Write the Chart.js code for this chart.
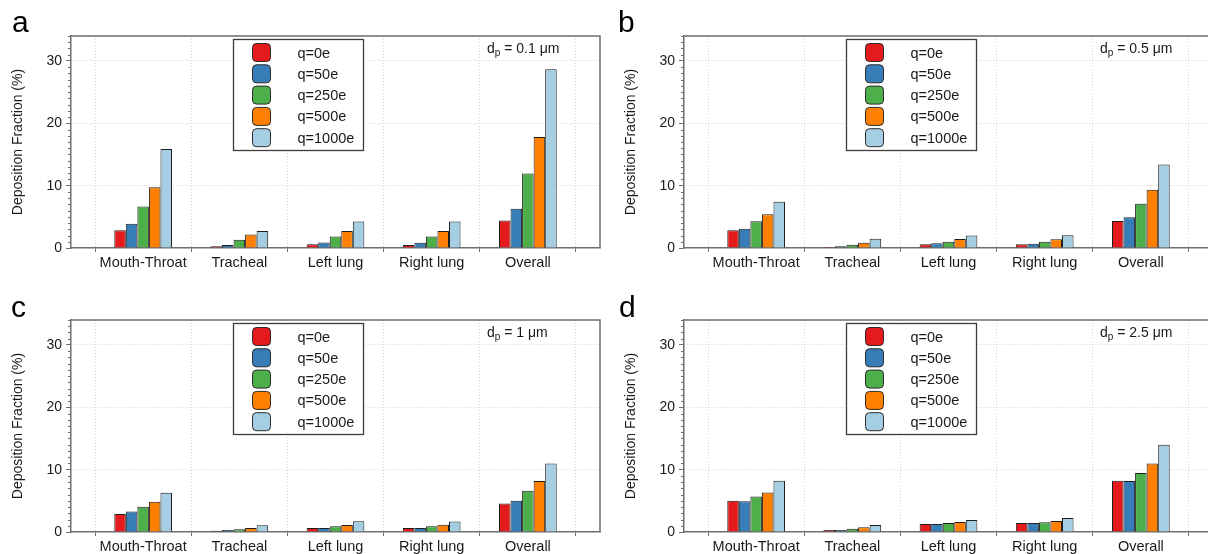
<!DOCTYPE html>
<html>
<head>
<meta charset="utf-8">
<script src="https://cdn.jsdelivr.net/npm/chart.js@4.4.0/dist/chart.umd.min.js"></script>
<style>
  html, body { margin: 0; padding: 0; background: #fff; }
  body { width: 1208px; height: 554px; position: relative; overflow: hidden; }
  canvas { position: absolute; }
</style>
</head>
<body>
<canvas id="chartA" width="604" height="284" style="left:0;top:0"></canvas>
<canvas id="chartB" width="604" height="284" style="left:613px;top:0"></canvas>
<canvas id="chartC" width="604" height="284" style="left:0;top:284px"></canvas>
<canvas id="chartD" width="604" height="284" style="left:613px;top:284px"></canvas>
<script>
var regions = ["Mouth-Throat", "Tracheal", "Left lung", "Right lung", "Overall"];
var charges = ["q=0e", "q=50e", "q=250e", "q=500e", "q=1000e"];
var colors = ["#e41a1c", "#377eb8", "#4daf4a", "#ff7f00", "#a6cee3"];
var yTicks = [0, 10, 20, 30];

// deposition fraction (%), one row per charge level, columns follow regions
var frac01 = [
    [2.85, 0.27, 0.60, 0.48, 4.40],
    [3.90, 0.48, 0.90, 0.86, 6.30],
    [6.67, 1.34, 1.83, 1.83, 11.94],
    [9.73, 2.15, 2.74, 2.74, 17.80],
    [15.86, 2.74, 4.25, 4.25, 28.66]
];
var frac05 = [
    [2.85, 0.16, 0.60, 0.60, 4.35],
    [3.10, 0.27, 0.75, 0.70, 4.95],
    [4.30, 0.54, 1.02, 1.02, 7.10],
    [5.43, 0.86, 1.45, 1.40, 9.35],
    [7.42, 1.50, 2.00, 2.04, 13.40]
];
var frac1 = [
    [2.90, 0.20, 0.65, 0.65, 4.57],
    [3.28, 0.32, 0.65, 0.65, 5.00],
    [4.03, 0.43, 0.91, 0.91, 6.61],
    [4.84, 0.65, 1.13, 1.18, 8.17],
    [6.29, 1.08, 1.72, 1.67, 10.97]
];
var frac25 = [
    [5.00, 0.32, 1.29, 1.45, 8.23],
    [4.95, 0.32, 1.29, 1.45, 8.17],
    [5.70, 0.54, 1.45, 1.56, 9.46],
    [6.34, 0.75, 1.61, 1.77, 10.97],
    [8.23, 1.13, 1.94, 2.26, 14.00]
];

var FONT = '"Liberation Sans", Arial, Helvetica, sans-serif';
var AXIS_COLOR = '#6e6e6e';
var GRID_COLOR = '#d2d2d2';

// frame, minor ticks, legend box, size label and panel letter
var panelDecor = {
    id: 'panelDecor',
    afterDatasetsDraw: function(chart) {
        var ctx = chart.ctx;
        var area = chart.chartArea;
        var y = chart.scales.y;
        var o = chart.options.plugins.panelDecor;

        ctx.save();
        // minor ticks on the y axis
        ctx.strokeStyle = AXIS_COLOR;
        ctx.lineWidth = 1;
        y.ticks.forEach(function(t) {
            if (t.value % 10 !== 0) {
                var py = Math.round(y.getPixelForValue(t.value)) + 0.5;
                ctx.beginPath();
                ctx.moveTo(area.left - 3, py);
                ctx.lineTo(area.left, py);
                ctx.stroke();
            }
        });

        // top and right border
        ctx.lineWidth = 1.5;
        ctx.beginPath();
        ctx.moveTo(area.left, area.top);
        ctx.lineTo(area.right, area.top);
        ctx.lineTo(area.right, area.bottom);
        ctx.stroke();

        // legend
        var lx = area.left + 162.5, ly = area.top + 3.5;
        ctx.fillStyle = '#fff';
        ctx.fillRect(lx, ly, 130, 111);
        ctx.strokeStyle = '#3c3c3c';
        ctx.lineWidth = 1.3;
        ctx.strokeRect(lx, ly, 130, 111);
        chart.data.datasets.forEach(function(ds, i) {
            var sy = ly + 4 + i * 21.3;
            ctx.beginPath();
            ctx.roundRect(lx + 19, sy, 18, 18, 4);
            ctx.fillStyle = ds.backgroundColor;
            ctx.fill();
            ctx.strokeStyle = '#2a2a2a';
            ctx.lineWidth = 1;
            ctx.stroke();
            ctx.fillStyle = '#1a1a1a';
            ctx.font = '14.5px ' + FONT;
            ctx.textBaseline = 'middle';
            ctx.textAlign = 'left';
            ctx.fillText(ds.label, lx + 64, sy + 10);
        });

        // particle diameter label
        var tx = area.left + 416, ty = area.top + 17;
        ctx.fillStyle = '#1a1a1a';
        ctx.textBaseline = 'alphabetic';
        ctx.font = '14px ' + FONT;
        ctx.fillText('d', tx, ty);
        tx += ctx.measureText('d').width;
        ctx.font = '10px ' + FONT;
        ctx.fillText('p', tx, ty + 3);
        tx += ctx.measureText('p').width;
        ctx.font = '14px ' + FONT;
        ctx.fillText(' = ' + o.size + ' \u03bcm', tx, ty);

        // panel letter
        ctx.font = '30px ' + FONT;
        ctx.fillStyle = '#000';
        ctx.fillText(o.letter, o.letterX, o.letterY);
        ctx.restore();
    }
};

function makeChart(id, rows, size, letter, letterX, letterY) {
    var datasets = charges.map(function(q, i) {
        return {
            label: q,
            data: regions.map(function(r, j) { return {x: j + 1, y: rows[i][j]}; }),
            backgroundColor: colors[i],
            borderColor: '#1e1e1e',
            borderWidth: 1,
            barPercentage: 1,
            categoryPercentage: 0.6
        };
    });

    return new Chart(document.getElementById(id), {
        type: 'bar',
        data: { datasets: datasets },
        options: {
            responsive: false,
            animation: false,
            devicePixelRatio: 1,
            layout: { padding: { left: 0, top: 36, right: 4, bottom: 0 } },
            plugins: {
                legend: { display: false },
                tooltip: { enabled: false },
                panelDecor: { size: size, letter: letter, letterX: letterX, letterY: letterY }
            },
            scales: {
                x: {
                    type: 'linear',
                    min: 0.25,
                    max: 5.75,
                    offset: false,
                    afterBuildTicks: function(scale) {
                        scale.ticks = regions.map(function(r, j) { return {value: j + 1}; });
                    },
                    afterFit: function(scale) { scale.height = 36; },
                    ticks: {
                        autoSkip: false,
                        maxRotation: 0,
                        padding: 2,
                        color: '#1a1a1a',
                        font: { family: FONT, size: 14.5 },
                        callback: function(v) { return regions[v - 1]; }
                    },
                    grid: {
                        offset: true,
                        color: GRID_COLOR,
                        lineWidth: 1,
                        tickLength: 4,
                        tickColor: AXIS_COLOR
                    },
                    border: { color: AXIS_COLOR, width: 1.5, dash: [1, 2] }
                },
                y: {
                    min: 0,
                    max: 34,
                    afterBuildTicks: function(scale) {
                        var t = [];
                        for (var v = 0; v <= 34; v++) t.push({value: v});
                        scale.ticks = t;
                    },
                    afterFit: function(scale) { scale.width = 71; },
                    ticks: {
                        autoSkip: false,
                        padding: 4,
                        color: '#1a1a1a',
                        font: { family: FONT, size: 14 },
                        callback: function(v) { return yTicks.indexOf(v) >= 0 ? v : ''; }
                    },
                    grid: {
                        color: function(c) {
                            if (!c.tick) return 'transparent';
                            return (c.tick.value > 0 && c.tick.value % 10 === 0) ? GRID_COLOR : 'transparent';
                        },
                        tickColor: function(c) {
                            if (!c.tick) return 'transparent';
                            return c.tick.value % 10 === 0 ? AXIS_COLOR : 'transparent';
                        },
                        lineWidth: 1,
                        tickLength: 5
                    },
                    border: { color: AXIS_COLOR, width: 1.5, dash: [1, 2] },
                    title: {
                        display: true,
                        text: 'Deposition Fraction (%)',
                        color: '#1a1a1a',
                        font: { family: FONT, size: 14 },
                        padding: { top: 10, bottom: 0 }
                    }
                }
            }
        },
        plugins: [panelDecor]
    });
}

makeChart('chartA', frac01, '0.1', 'a', 12, 31.5);
makeChart('chartB', frac05, '0.5', 'b', 5, 31.5);
makeChart('chartC', frac1, '1', 'c', 11, 32.7);
makeChart('chartD', frac25, '2.5', 'd', 6, 32.7);
</script>
</body>
</html>
